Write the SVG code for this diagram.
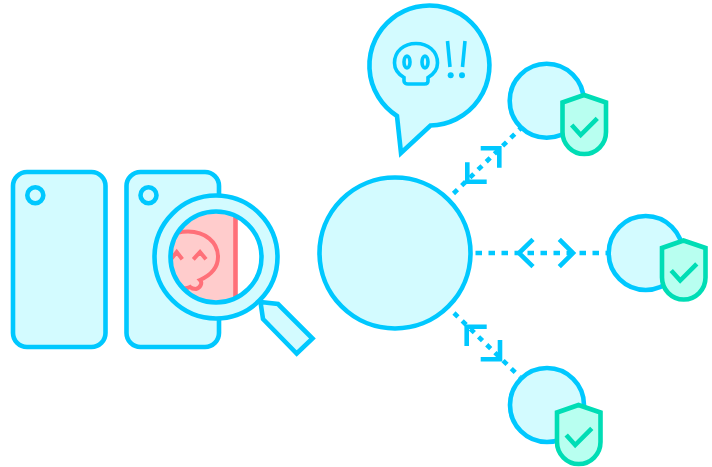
<svg xmlns="http://www.w3.org/2000/svg" xmlns:xlink="http://www.w3.org/1999/xlink" width="712" height="467" viewBox="0 0 712 467">
<style>
.c{fill:#d3fbff;stroke:#00c8ff;stroke-width:4.600;stroke-linejoin:miter}
.n{fill:none;stroke:#00c8ff;stroke-width:4.600}
.d{fill:none;stroke:#00c8ff;stroke-width:4.600;stroke-dasharray:6.500 6.500}
.e{fill:none;stroke:#00c8ff;stroke-width:4.600;stroke-dasharray:5.500 5.900}
.r{fill:none;stroke:#ff7079;stroke-width:4}
.s{fill:#b8fff0;stroke:#00ddb5;stroke-width:4.600}
.t{fill:none;stroke:#00ddb5;stroke-width:4.600}
</style>
<defs>
<clipPath id="lensClip"><circle cx="216" cy="257" r="45.5"/></clipPath>
<g id="shield">
<path class="s" d="M584 95 L606 102.500 V132 A21.750 22 0 0 1 562.500 132 V102.500 Z"/>
<path class="t" d="M571.700 125 L580.700 135 L597.300 118.300"/>
</g>
</defs>
<g id="connectors">
<path class="d" d="M475.500 253 H607"/>
<path class="n" d="M533 239.300 L519 253 L533 266.700 M559.300 239.300 L573 253 L559.300 266.700"/>
<path class="e" d="M453.500 193.500 L521 128"/>
<path class="n" d="M480.700 148.300 H499.300 V167.700 M467.300 162.300 V181.700 H486.700"/>
<path class="e" d="M454 313 L520 377"/>
<path class="n" d="M486.700 326.700 H466.700 V346 M480.700 359.300 H500 V340"/>
</g>
<g id="phone-1">
<rect class="c" x="13" y="172" width="92.500" height="175" rx="14"/>
<circle class="n" cx="35.300" cy="195.300" r="8"/>
</g>
<g id="phone-2">
<rect class="c" x="126.500" y="172" width="92.500" height="175" rx="14"/>
<circle class="n" cx="148.500" cy="195.300" r="8"/>
</g>
<g id="magnifier">
<path class="c" d="M260.500 302 L278 304 L312.500 338.500 L296.700 353.500 L263 319 Z"/>
<circle class="c" cx="216" cy="257" r="61.500"/>
<circle cx="216" cy="257" r="45.500" fill="#fff"/>
<g clip-path="url(#lensClip)">
<rect x="160" y="205" width="76" height="105" fill="#ffcccc"/>
<path d="M235.500 205 V310" stroke="#ff7079" stroke-width="4.600" fill="none"/>
<path class="r" d="M200 280 C211 275 218 268 218 257 C218 242 205 231.500 188 231.500 C172 231.500 160 240 160 258 C160 272 170 280 178 284 L183 288 C186 289 188 288 190 287 C192 289 194 289 196 289 C200 288 203 283 200 280 Z"/>
<path class="r" d="M193.300 259.300 L200 252 L206 259.300 M171 259.300 L176.700 252 L182.300 259.300"/>
</g>
<circle class="n" cx="216" cy="257" r="45.500"/>
</g>
<g id="hub">
<circle class="c" cx="395" cy="253" r="75.500"/>
</g>
<g id="speech-bubble">
<path class="c" d="M397 116 A60 60 0 1 1 430.500 125.500 L401 153 Z"/>
<path class="n" style="stroke-width:3.600" d="M404 77.500 C398 74 394.500 69 394.500 63 C394.500 51 404 43.500 416 43.500 C428 43.500 437.500 51 437.500 63 C437.500 69 434 74 428 77.500 V81 C428 83 426.500 84 424.500 84 H408 C406 84 404 83 404 81 Z"/>
<ellipse class="n" style="stroke-width:3.600" cx="407" cy="62" rx="3" ry="6"/>
<ellipse class="n" style="stroke-width:3.600" cx="425" cy="62" rx="3" ry="6"/>
<path class="n" style="stroke-width:3.600" d="M447.500 41 L450 67 M465 41 L462.500 67"/>
<circle cx="450.700" cy="75.300" r="3" fill="#00c8ff"/>
<circle cx="462" cy="75.300" r="3" fill="#00c8ff"/>
</g>
<g id="client-top">
<circle class="c" cx="546.700" cy="100.800" r="37"/>
<use href="#shield"/>
</g>
<g id="client-middle">
<circle class="c" cx="645.700" cy="253" r="37"/>
<use href="#shield" x="99.500" y="145.500"/>
</g>
<g id="client-bottom">
<circle class="c" cx="547" cy="405" r="37"/>
<use href="#shield" x="-5.500" y="310"/>
</g>
</svg>
